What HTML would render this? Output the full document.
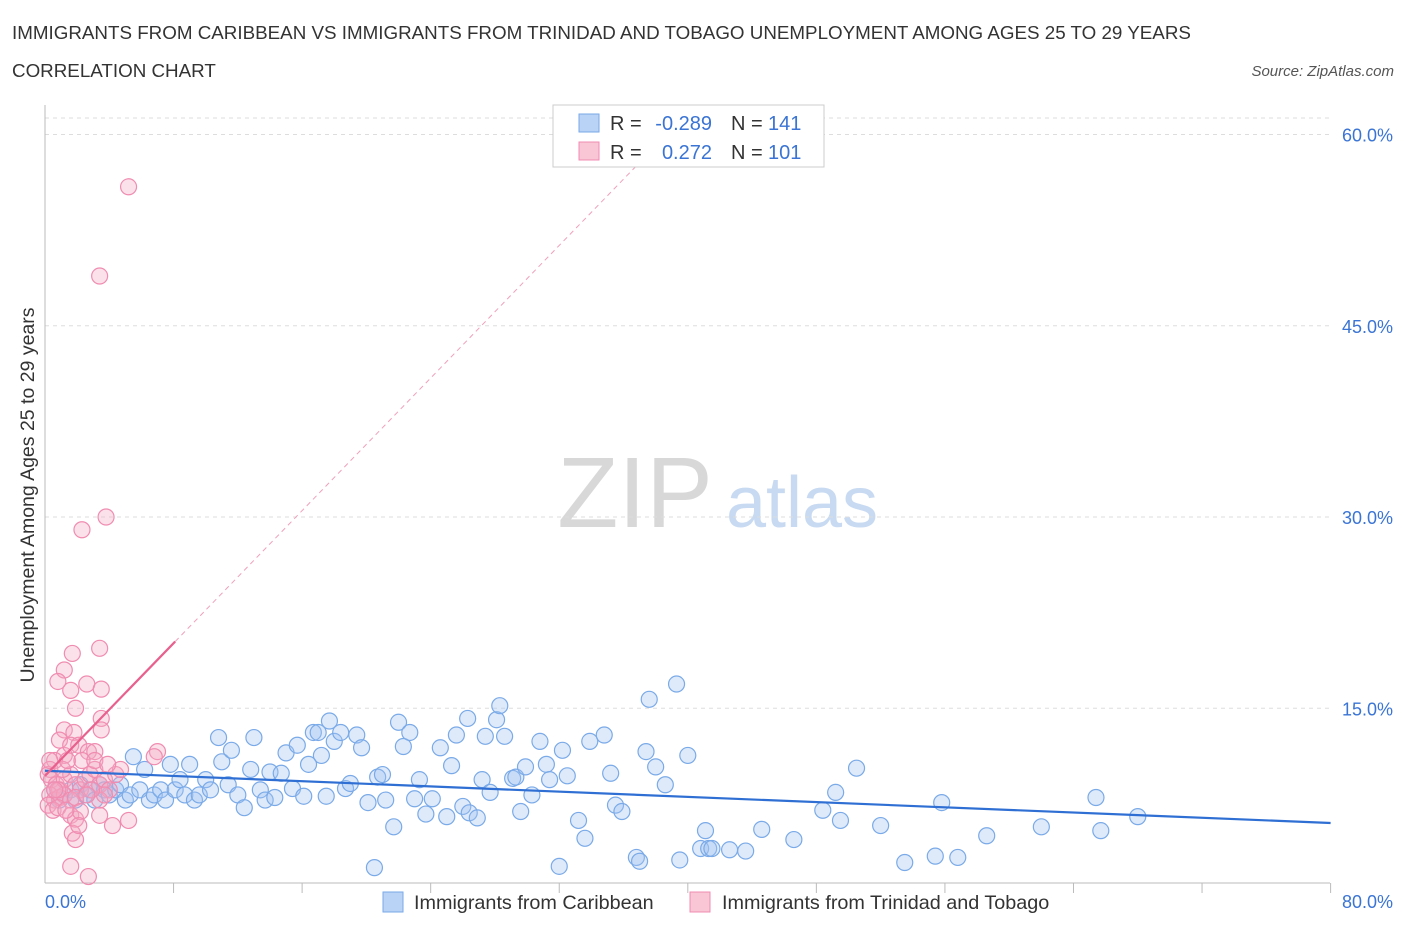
<!DOCTYPE html>
<html><head><meta charset="utf-8">
<style>
body{margin:0;background:#fff;font-family:"Liberation Sans",sans-serif;}
svg text{font-family:"Liberation Sans",sans-serif;}
</style></head>
<body>
<svg id="chart" width="1406" height="930" xmlns="http://www.w3.org/2000/svg">
<text x="12" y="39" font-size="18.8" fill="#333">IMMIGRANTS FROM CARIBBEAN VS IMMIGRANTS FROM TRINIDAD AND TOBAGO UNEMPLOYMENT AMONG AGES 25 TO 29 YEARS</text>
<text x="12" y="77" font-size="18.8" fill="#333">CORRELATION CHART</text>
<text x="1394" y="76" font-size="15" fill="#555" text-anchor="end" font-style="italic">Source: ZipAtlas.com</text>
<g>
<text x="635" y="527" font-size="100" fill="#d8d8d8" text-anchor="middle" font-family="Liberation Serif,serif">ZIP</text>
<text x="802" y="527" font-size="72" fill="#c8daf2" text-anchor="middle">atlas</text>
</g>
<g id="grid"></g>
<g id="axes"></g>
<g id="marks"></g>
<text transform="translate(34,495) rotate(-90)" font-size="19.5" fill="#333" text-anchor="middle">Unemployment Among Ages 25 to 29 years</text>
<g>
<rect x="553" y="105" width="271" height="62" fill="#fff" stroke="#ccc"/>
<rect x="579" y="114" width="20" height="18" fill="#b8d3f5" stroke="#7aaae8"/>
<rect x="579" y="142" width="20" height="18" fill="#f9c6d6" stroke="#f08cb0"/>
<text x="610" y="130" font-size="20" fill="#333">R =</text>
<text x="712" y="130" font-size="20" fill="#3a74d4" text-anchor="end">-0.289</text>
<text x="731" y="130" font-size="20" fill="#333">N =</text>
<text x="768" y="130" font-size="20" fill="#3a74d4">141</text>
<text x="610" y="159" font-size="20" fill="#333">R =</text>
<text x="712" y="159" font-size="20" fill="#3a74d4" text-anchor="end">0.272</text>
<text x="731" y="159" font-size="20" fill="#333">N =</text>
<text x="768" y="159" font-size="20" fill="#3a74d4">101</text>
</g>
<g>
<rect x="383" y="892" width="20" height="20" fill="#b8d3f5" stroke="#7aaae8"/>
<text x="414" y="909" font-size="19.8" fill="#333">Immigrants from Caribbean</text>
<rect x="690" y="892" width="20" height="20" fill="#f9c6d6" stroke="#f08cb0"/>
<text x="722" y="909" font-size="19.8" fill="#333">Immigrants from Trinidad and Tobago</text>
</g>
</svg>
<script>
const xTicks=[0,80];
const yTicks=[15,30,45,60];
const blueX=[.6,.9,1.2,1.6,1.9,2.2,2.5,2.8,3.1,3.4,3.7,4.0,4.4,4.7,5.0,5.3,5.5,5.9,6.2,6.5,6.8,7.2,7.5,7.8,8.1,8.4,8.7,9.0,9.3,9.6,10.0,10.3,10.8,11.0,11.4,11.6,12.0,12.4,12.8,13.0,13.4,13.7,14.0,14.3,14.7,15.0,15.4,15.7,16.1,16.4,16.7,17.0,17.2,17.5,17.7,18.0,18.4,18.7,19.0,19.4,19.7,20.1,20.5,20.7,21.0,21.2,21.7,22.0,22.3,22.7,23.0,23.3,23.7,24.1,24.6,25.0,25.3,25.6,26.0,26.3,26.4,26.9,27.2,27.4,27.7,28.1,28.3,28.6,29.1,29.3,29.6,29.9,30.3,30.8,31.2,31.4,32.0,32.2,32.5,33.2,33.6,33.9,34.8,35.2,35.5,35.9,36.8,37.0,37.4,37.6,38.0,38.6,39.3,39.5,40.0,40.8,41.1,41.3,41.5,42.6,43.6,44.6,46.6,48.4,49.2,49.5,50.5,52.0,53.5,55.8,55.4,56.8,58.6,62.0,65.4,65.7,68.0];
const blueY=[8.6,7.8,8.2,8.6,7.8,9.0,8.2,8.6,7.8,9.0,8.6,8.2,8.6,9.0,7.8,8.2,11.2,8.6,10.2,7.8,8.2,8.6,7.8,10.6,8.6,9.4,8.2,10.6,7.8,8.2,9.4,8.6,12.7,10.8,9.0,11.7,8.2,7.2,10.2,12.7,8.6,7.8,10.0,8.0,9.9,11.5,8.7,12.1,8.1,10.6,13.1,13.1,11.3,8.1,14.0,12.4,13.1,8.7,9.1,12.9,11.9,7.6,2.5,9.6,9.8,7.8,5.7,13.9,12.0,13.1,7.9,9.4,6.7,7.9,11.9,6.5,10.5,12.9,7.3,14.2,6.8,6.4,9.4,12.8,8.4,14.1,15.2,12.8,9.5,9.6,6.9,10.4,8.2,12.4,10.6,9.4,2.6,11.7,9.7,6.2,4.8,12.4,12.9,9.9,7.4,6.9,3.3,3.0,11.6,15.7,10.4,9.0,16.9,3.1,11.3,4.0,5.4,4.0,4.0,3.9,3.8,5.5,4.7,7.0,8.4,6.2,10.3,5.8,2.9,7.6,3.4,3.3,5.0,5.7,8.0,5.4,6.5];
const pinkX=[5.2,3.4,3.8,2.3,3.4,1.7,1.2,.8,2.6,1.6,3.5,1.9,1.2,1.8,3.5,3.5,7.0,6.8,.9,1.2,1.6,2.1,2.7,3.1,.6,.3,.2,.4,.7,.9,1.2,1.6,1.9,2.2,2.5,2.8,3.1,3.4,3.7,4.0,4.4,4.7,.3,.6,.9,1.2,1.6,1.9,.2,.5,.8,1.6,1.9,2.2,1.7,1.9,2.1,3.4,4.2,5.2,1.6,2.7,.8,1.1,1.4,2.3,3.1,3.9,.3,.6,1.3,3.4,3.7,2.9,2.6];
const pinkY=[55.9,48.9,30.0,29.0,19.7,19.3,18.0,17.1,16.9,16.4,16.5,15.0,13.3,13.1,14.2,13.3,11.6,11.2,12.5,11.3,12.1,12.1,11.6,11.6,10.9,10.2,9.8,9.4,9.0,8.6,9.4,9.8,9.0,8.6,9.4,9.8,10.2,9.0,9.4,8.6,9.8,10.2,8.2,7.8,8.0,8.2,7.8,8.0,7.4,7.0,7.2,6.6,6.3,6.9,5.2,4.7,5.8,6.6,5.8,6.2,2.6,1.8,8.6,10.2,10.9,10.9,10.9,10.6,10.9,8.6,7.0,7.8,8.2,8.6,8.2];
const blueTrend=[10.1,6.0];
const pinkTrend=[9.7,1.3,8.1,37];

const NS="http://www.w3.org/2000/svg";
const X=v=>45+v*16.07;
const Y=v=>899.5-v*12.75;
function mk(tag,attrs,parent){const e=document.createElementNS(NS,tag);for(const k in attrs)e.setAttribute(k,attrs[k]);parent.appendChild(e);return e;}
const grid=document.getElementById('grid'),axes=document.getElementById('axes'),marks=document.getElementById('marks');
let gl=mk('line',{x1:45,x2:1330,y1:118,y2:118,stroke:'#ddd','stroke-dasharray':'4,4'},grid);


yTicks.forEach(t=>{
 const l=mk('line',{x1:45,x2:1330,y1:Y(t),y2:Y(t),stroke:'#ddd','stroke-dasharray':'4,4'},grid);
 
 
 const tx=mk('text',{x:1393,y:Y(t)+7,'font-size':18,fill:'#3a74d4','text-anchor':'end'},axes);
 tx.textContent=t.toFixed(1)+'%';
 
 
});
let ax=mk('line',{x1:45,x2:1330,y1:883,y2:883,stroke:'#bbb'},axes);


let ay=mk('line',{x1:45,x2:45,y1:105,y2:883,stroke:'#bbb'},axes);


for(let i=1;i<=10;i++){
 const t=mk('line',{x1:X(i*8),x2:X(i*8),y1:883,y2:893,stroke:'#bbb'},axes);
 
 
}
xTicks.forEach((t,i)=>{
 const tx=mk('text',{x:i==0?45:1393,y:908,'font-size':18,fill:'#3a74d4','text-anchor':i==0?'start':'end'},axes);
 tx.textContent=t.toFixed(1)+'%';
 
 
});
blueX.forEach((x,i)=>{
 const c=mk('circle',{cx:X(x),cy:Y(blueY[i]),r:8,fill:'rgba(160,196,240,0.35)',stroke:'#7aaae8','stroke-width':1.2},marks);
 
 
});
pinkX.forEach((x,i)=>{
 const c=mk('circle',{cx:X(x),cy:Y(pinkY[i]),r:8,fill:'rgba(244,170,195,0.35)',stroke:'#f08cb0','stroke-width':1.2},marks);
 
 
});
let bt=mk('line',{x1:X(0),y1:Y(blueTrend[0]),x2:X(80),y2:Y(blueTrend[1]),stroke:'#2f6fd4','stroke-width':2.2},marks);


const pf=x=>pinkTrend[0]+pinkTrend[1]*x;
let pd=mk('line',{x1:X(pinkTrend[2]),y1:Y(pf(pinkTrend[2])),x2:X(pinkTrend[3]),y2:Y(pf(pinkTrend[3])),stroke:'#f0a0bb','stroke-width':1,'stroke-dasharray':'5,4'},marks);


let pt=mk('line',{x1:X(0),y1:Y(pf(0)),x2:X(pinkTrend[2]),y2:Y(pf(pinkTrend[2])),stroke:'#e8608e','stroke-width':2.2},marks);


</script>
</body></html>
